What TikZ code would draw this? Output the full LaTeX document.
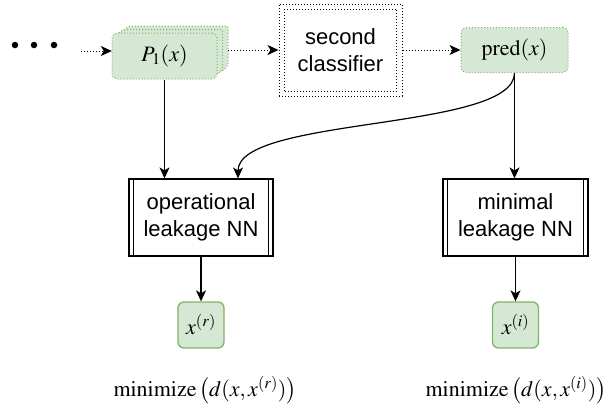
\documentclass[tikz,border=0pt]{standalone}
\usepackage{mathptmx}
\usepackage{fontspec}
\setmainfont{Liberation Serif}
\newfontfamily\arialf{Liberation Sans}
\usetikzlibrary{arrows.meta,calc}
\definecolor{gfill}{HTML}{D5E8D4}
\definecolor{gline}{HTML}{82B366}
\tikzset{
  dotline/.style={line width=1pt, dash pattern=on 1pt off 2pt},
  gbox/.style={draw=gline, fill=gfill, rounded corners=5pt, line width=1pt, inner sep=0pt},
  gdot/.style={gbox, dotline, draw=gline},
  xbox/.style={gbox, line width=1.3pt, rounded corners=6pt, minimum width=46pt, minimum height=46pt},
  procbox/.style={draw, line width=1.2pt, fill=white, align=center, inner sep=0pt, font=\arialf\fontsize{22}{27}\selectfont},
  arr/.style={-{Stealth[length=11pt,width=10pt,inset=3pt]}, line width=1.2pt},
  darr/.style={arr, dotline},
  mtext/.style={font=\fontsize{22}{26}\selectfont},
  dotc/.style={circle, fill, inner sep=0pt, minimum size=6.5pt}
}
\begin{document}
\begin{tikzpicture}[x=1pt,y=-1pt, mtext]
\useasboundingbox (0,0) rectangle (607,407);
% dots
\node[dotc] (d1) at (15,45) {};
\node[dotc] (d2) at (34,45) {};
\node[dotc] (d3) at (54,45) {};
\coordinate (dend) at (81,51);
% P1 stack (back layers drawn directly, chamfered)
\draw[gdot, rounded corners=2pt] (120,33) -- (129,26) -- (228,26) -- (228,66) -- (221,72) -- (123,72) -- cycle;
\draw[gdot, rounded corners=2pt] (115,36) -- (123.5,29.5) -- (222.5,29.5) -- (222.5,69.5) -- (216,75.5) -- (117.5,75.5) -- cycle;
\node[gdot, minimum width=105pt, minimum height=46pt] (p1) at (164.5,56) {$P_1(x)$};
\node[inner sep=0pt, minimum width=116pt, minimum height=53pt] (p1stack) at (170,52.5) {};
% second classifier
\node[draw, dotline, minimum width=123pt, minimum height=92pt, align=center, inner sep=0pt,
      font=\arialf\fontsize{22}{27}\selectfont] (sc) at (340.5,50) {second\\classifier};
\node[draw, dotline, minimum width=112pt, minimum height=82pt] (sci) at (340.5,50) {};
% pred
\node[gdot, minimum width=107pt, minimum height=45pt] (pred) at (514.5,50) {$\mathrm{pred}(x)$};
% process boxes
\node[procbox, minimum width=144pt, minimum height=77pt] (op) at (201,217.5) {operational\\leakage NN};
\draw[line width=1.2pt] ($(op.north west)+(5,0)$) -- ($(op.south west)+(5,0)$);
\draw[line width=1.2pt] ($(op.north east)+(-5,0)$) -- ($(op.south east)+(-5,0)$);
\node[procbox, minimum width=145pt, minimum height=77pt] (mn) at (515.5,217.5) {minimal\\leakage NN};
\draw[line width=1.2pt] ($(mn.north west)+(5,0)$) -- ($(mn.south west)+(5,0)$);
\draw[line width=1.2pt] ($(mn.north east)+(-5,0)$) -- ($(mn.south east)+(-5,0)$);
% outputs
\node[xbox] (xr) at (201,325) {$x^{(r)}$};
\node[xbox] (xi) at (515.5,325) {$x^{(i)}$};
% labels
\node (lr) at (205,390) {$\mathrm{minimize}\,\bigl(d(x,x^{(r)})\bigr)$};
\node (li) at (516,390) {$\mathrm{minimize}\,\bigl(d(x,x^{(i)})\bigr)$};
% connectors
\draw[darr] (dend) -- (p1stack.west |- dend);
\draw[darr] (p1stack.east |- sc.west) -- (sc.west);
\draw[darr] (sc.east) -- (pred.west);
\draw[arr] (p1.south) -- (p1.south |- op.north);
\draw[arr] (pred.south) -- (pred.south |- mn.north);
\draw[arr] (pred.south) .. controls ($(pred.south)+(0,58)$) and ($(op.north)+(37,-62)$) .. ($(op.north)+(37,0)$);
\draw[arr] (op.south) -- (xr.north);
\draw[arr] (mn.south) -- (xi.north);
\end{tikzpicture}
\end{document}
